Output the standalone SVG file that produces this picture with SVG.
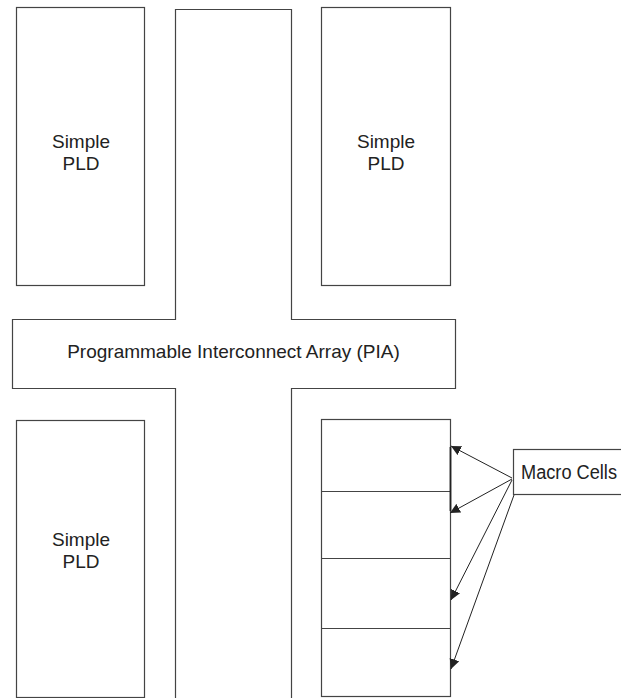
<svg xmlns="http://www.w3.org/2000/svg" width="621" height="698" viewBox="0 0 621 698">
  <style>
    .box { fill: #fff; stroke: #444; stroke-width: 1.2; }
    .edge { fill: none; stroke: #444; stroke-width: 1.2; }
    .lbl { font-family: "Liberation Sans", Arial, sans-serif; font-size: 19px; fill: #222; text-anchor: middle; }
    .arrow { fill: none; stroke: #222; stroke-width: 1; marker-end: url(#head); }
  </style>
  <defs>
    <marker id="head" viewBox="0 0 10 10" refX="10" refY="5" markerWidth="10" markerHeight="10" markerUnits="userSpaceOnUse" orient="auto">
      <path d="M0,0 L10,5 L0,10 Z" fill="#222"/>
    </marker>
  </defs>

  <rect width="621" height="698" fill="#fff"/>

  <!-- Programmable Interconnect Array: cross-shaped channel -->
  <g id="pia">
    <path class="edge" d="M175.5,698 V388.5 H12.5 V319.5 H175.5 V9.5 H291.5 V319.5 H455.5 V388.5 H291.5 V698"/>
    <text class="lbl" x="233.5" y="358">Programmable Interconnect Array (PIA)</text>
  </g>

  <!-- Simple PLD blocks -->
  <g id="pld-top-left">
    <rect class="box" x="16.5" y="7.5" width="128" height="278"/>
    <text class="lbl" x="81" y="148">Simple</text>
    <text class="lbl" x="81" y="170">PLD</text>
  </g>
  <g id="pld-top-right">
    <rect class="box" x="321.5" y="7.5" width="129" height="278"/>
    <text class="lbl" x="386" y="148">Simple</text>
    <text class="lbl" x="386" y="170">PLD</text>
  </g>
  <g id="pld-bottom-left">
    <rect class="box" x="16.5" y="420.5" width="128" height="277"/>
    <text class="lbl" x="81" y="546">Simple</text>
    <text class="lbl" x="81" y="568">PLD</text>
  </g>

  <!-- Stack of macro cells -->
  <g id="macro-stack">
    <rect class="box" x="321.5" y="419.5" width="129" height="277"/>
    <line class="edge" x1="321.5" y1="491.5" x2="450.5" y2="491.5"/>
    <line class="edge" x1="321.5" y1="558.5" x2="450.5" y2="558.5"/>
    <line class="edge" x1="321.5" y1="628.5" x2="450.5" y2="628.5"/>
    <line x1="450.5" y1="447" x2="450.5" y2="511" stroke="#222" stroke-width="1.8"/>
  </g>

  <!-- Callout label -->
  <g id="macro-label">
    <rect class="box" x="513.5" y="449.5" width="120" height="45"/>
    <text x="521" y="479" font-family="'Liberation Sans', Arial, sans-serif" font-size="20" fill="#222" textLength="96" lengthAdjust="spacingAndGlyphs">Macro Cells</text>
  </g>

  <!-- Callout arrows -->
  <g id="connectors">
    <line class="arrow" x1="512" y1="478" x2="451" y2="446"/>
    <line class="arrow" x1="512" y1="479" x2="450" y2="513"/>
    <line class="arrow" x1="512" y1="480" x2="451" y2="600"/>
    <line class="arrow" x1="514" y1="495" x2="451" y2="669"/>
  </g>
</svg>
